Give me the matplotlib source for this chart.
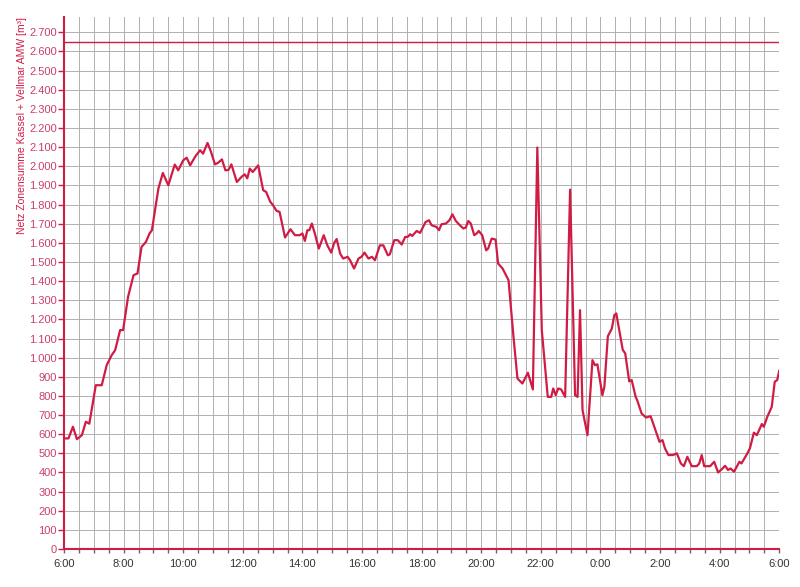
import numpy as np
from matplotlib import pyplot as plt
from matplotlib.ticker import FuncFormatter, MultipleLocator

# minutes after 06:00 and flow values [m3]
minutes = [2, 9, 18, 26, 36, 44, 51, 64, 76, 86, 96, 103, 113, 119, 129, 140, 148,
           156, 165, 172, 177, 190, 199, 210, 223, 230, 240, 247, 254, 264, 274, 280,
           289, 296, 304, 310, 318, 325, 331, 337, 348, 358, 364, 369, 374, 380, 391,
           401, 407, 415, 421, 428, 434, 445, 456, 465, 475, 480, 485, 490, 494, 499,
           505, 513, 523, 530, 538, 544, 549, 556, 562, 571, 576, 584, 593, 599, 605,
           613, 620, 626, 636, 643, 652, 656, 665, 672, 680, 687, 692, 697, 701, 710,
           717, 728, 735, 740, 750, 755, 760, 769, 776, 782, 789, 797, 804, 809, 814,
           819, 826, 831, 835, 842, 850, 854, 861, 869, 874, 883, 895, 905, 913, 923,
           934, 944, 953, 962, 974, 981, 985, 990, 995, 1001, 1009, 1019, 1029, 1034,
           1039, 1044, 1054, 1064, 1069, 1074, 1084, 1088, 1095, 1103, 1108, 1112,
           1125, 1130, 1138, 1143, 1151, 1154, 1163, 1172, 1181, 1185, 1193, 1199,
           1205, 1210, 1217, 1226, 1234, 1242, 1248, 1255, 1264, 1274, 1279, 1284,
           1289, 1301, 1309, 1317, 1324, 1331, 1337, 1342, 1349, 1360, 1364, 1376,
           1381, 1389, 1395, 1405, 1409, 1416, 1425, 1431, 1436, 1440]
flow = [578, 578, 639, 574, 595, 665, 655, 856, 856, 961, 1013, 1039, 1144, 1144, 1318,
        1431, 1440, 1578, 1605, 1648, 1666, 1883, 1965, 1901, 2009, 1979, 2031, 2045,
        2005, 2050, 2084, 2066, 2122, 2075, 2010, 2018, 2036, 1979, 1981, 2010, 1918,
        1946, 1958, 1937, 1988, 1970, 2005, 1875, 1866, 1816, 1796, 1767, 1762, 1628,
        1671, 1640, 1640, 1649, 1610, 1666, 1666, 1701, 1649, 1570, 1640, 1588, 1549,
        1600, 1620, 1544, 1518, 1527, 1509, 1466, 1518, 1527, 1549, 1518, 1527, 1509,
        1587, 1587, 1535, 1540, 1614, 1614, 1591, 1631, 1631, 1645, 1636, 1662, 1652,
        1709, 1718, 1692, 1683, 1666, 1697, 1701, 1718, 1749, 1714, 1692, 1675, 1680,
        1714, 1701, 1640, 1649, 1662, 1640, 1561, 1570, 1622, 1617, 1492, 1466, 1405,
        1109, 891, 865, 921, 834, 2098, 1144, 795, 795, 839, 804, 839, 834, 795, 1878,
        804, 795, 1248, 726, 595, 987, 961, 965, 804, 848, 1112, 1152, 1222, 1231,
        1041, 1022, 876, 883, 795, 778, 708, 687, 694, 665, 604, 560, 569, 526, 491,
        491, 500, 447, 433, 482, 433, 433, 447, 491, 433, 433, 456, 400, 416, 435, 413,
        421, 404, 456, 447, 500, 526, 608, 595, 653, 639, 691, 743, 874, 883, 931]
limit = 2650
hour_labels = ['6:00', '8:00', '10:00', '12:00', '14:00', '16:00', '18:00',
               '20:00', '22:00', '0:00', '2:00', '4:00', '6:00']

red = '#d01c45'
plt.rcParams['font.family'] = ['Liberation Sans', 'DejaVu Sans']

fig = plt.figure(figsize=(8, 5.87), dpi=100)
ax = fig.add_axes([0.08, 0.0647, 0.894, 0.9063])

ax.plot(minutes, flow, color=red, lw=1.6, zorder=3)
ax.axhline(limit, color=red, lw=1.0, zorder=3)

ax.set_xlim(0, 1440)
ax.set_ylim(0, 2780)
ax.xaxis.set_minor_locator(MultipleLocator(30))
ax.set_xticks(np.arange(0, 1441, 120))
ax.set_xticklabels(hour_labels)
ax.yaxis.set_major_locator(MultipleLocator(100))
ax.yaxis.set_major_formatter(FuncFormatter(lambda v, p: f'{int(v):,}'.replace(',', '.')))

ax.grid(which='both', color='#b0b0b0', lw=0.7, zorder=1)
for s in ['top', 'right']:
    ax.spines[s].set_visible(False)
for s in ['left', 'bottom']:
    ax.spines[s].set_color(red)
    ax.spines[s].set_linewidth(1.5)

ax.tick_params(axis='y', colors=red, labelcolor='#c8406a', labelsize=8, length=4, width=1, pad=1)
ax.tick_params(axis='x', which='both', colors='#666666', labelcolor='#333333', labelsize=8,
               length=3, width=1, pad=4)
ax.set_ylabel('Netz Zonensumme Kassel + Vellmar AMW [m³]', color=red, fontsize=7.5,
              loc='top', labelpad=2)

fig.savefig('out.png', dpi=100)
